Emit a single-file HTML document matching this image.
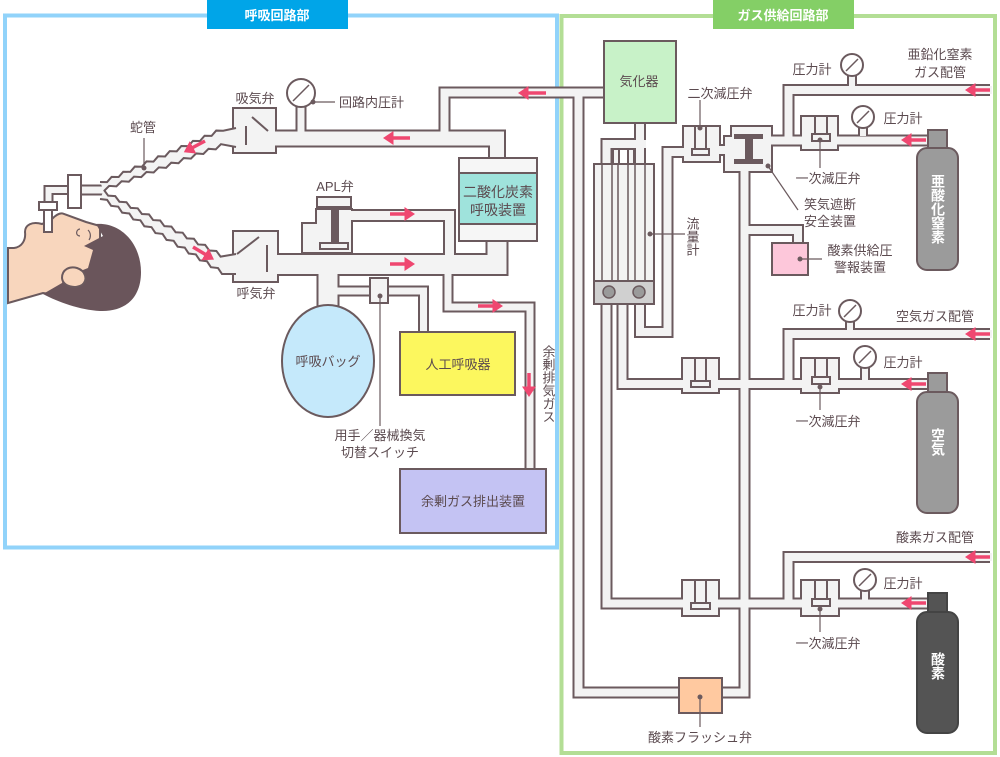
<!DOCTYPE html>
<html><head><meta charset="utf-8">
<style>
html,body{margin:0;padding:0;background:#fff;}
svg{display:block;}
text{font-family:"Liberation Sans","Noto Sans CJK JP",sans-serif;fill:#5b4a4f;font-size:13px;}
.c{text-anchor:middle;}
.w{fill:#fff;font-weight:bold;}
.v{writing-mode:tb;glyph-orientation-vertical:0;}
.dk{fill:none;stroke:#6b5a5e;stroke-linejoin:miter;}
.lt{fill:none;stroke:#f3f3f3;stroke-linejoin:miter;}
.bx{stroke:#6b5a5e;stroke-width:2;}
.ld{stroke:#6b5a5e;stroke-width:1.2;fill:none;}
</style></head>
<body>
<svg width="1000" height="757" viewBox="0 0 1000 757" xmlns="http://www.w3.org/2000/svg">
<defs>
<marker id="ah" markerWidth="4" markerHeight="4" refX="1" refY="2" orient="auto" markerUnits="strokeWidth">
<path d="M0,0 L3,2 L0,4 Z" fill="#ef4770"/></marker>
</defs>
<!-- frames -->
<rect x="5" y="15.5" width="552" height="532" fill="none" stroke="#91d3fa" stroke-width="4"/>
<rect x="561.5" y="16" width="433.5" height="737" fill="none" stroke="#b3de95" stroke-width="4"/>
<rect x="207" y="0" width="141" height="29" fill="#00a5e8"/>
<text x="277" y="20" class="c w">呼吸回路部</text>
<rect x="713" y="0" width="141" height="29" fill="#84cf66"/>
<text x="783" y="20" class="c w">ガス供給回路部</text>

<!-- DARK pipe strokes -->
<g class="dk">
<path d="M604,92.5 H444.5 V140" stroke-width="12"/>
<path d="M262,138.5 H497 V162" stroke-width="18"/>
<path d="M497,238 V264.5 H262" stroke-width="23"/>
<path d="M340,215.5 H449.5 V258" stroke-width="13"/>
<path d="M328,270 V312" stroke-width="23"/>
<path d="M330,291 H423.5 V334" stroke-width="11"/>
<path d="M448,270 V307 H530 V471" stroke-width="11"/>
<path d="M301,106 V132" stroke-width="11"/>
<path d="M81,190 H104" stroke-width="11"/>
<path d="M68,190 H48.5 V205" stroke-width="10"/>
<!-- gas side -->
<path d="M578.5,92 V692.5 H681" stroke-width="12"/>
<path d="M720,692.5 H744.5 V166" stroke-width="12"/>
<path d="M640,121 V166" stroke-width="12"/>
<path d="M606.5,166 V144 H646" stroke-width="12"/>
<path d="M640,302 V332 H667.5 V152 H686" stroke-width="12"/>
<path d="M716,150 H728" stroke-width="12"/>
<path d="M768,140.5 H929" stroke-width="12"/>
<path d="M788.5,141 V90 H990" stroke-width="12"/>
<path d="M744.5,230 H798 V245" stroke-width="12"/>
<path d="M606.5,302 V603.5 H929" stroke-width="12"/>
<path d="M622.5,302 V384 H929" stroke-width="12"/>
<path d="M788.5,385 V334 H990" stroke-width="12"/>
<path d="M788.5,604 V557 H990" stroke-width="12"/>
<path d="M852,75 V86" stroke-width="10"/>
<path d="M863,127 V136" stroke-width="10"/>
<path d="M850,321 V330" stroke-width="10"/>
<path d="M865,366 V380" stroke-width="10"/>
<path d="M865,590 V600" stroke-width="10"/>
</g>

<!-- valve bodies -->
<g fill="#f3f3f3" class="bx">
<rect x="233" y="108" width="43" height="45"/>
<rect x="233" y="231" width="45" height="51"/>
<path d="M302,253 V223 H316 V209 H352 V253 Z"/>
<rect x="683" y="126" width="37" height="36"/>
<path d="M724,172 V136 H731 V126 H772 V172 Z"/>
<rect x="801" y="116" width="37" height="34"/>
<rect x="682" y="358" width="37" height="35"/>
<rect x="801" y="358" width="38" height="35"/>
<rect x="682" y="580" width="37" height="36"/>
<rect x="801" y="580" width="38" height="36"/>
</g>

<!-- LIGHT pipe strokes -->
<g class="lt">
<path d="M604,92.5 H444.5 V140" stroke-width="8"/>
<path d="M262,138.5 H497 V162" stroke-width="14"/>
<path d="M497,238 V264.5 H262" stroke-width="19"/>
<path d="M330,215.5 H449.5 V258" stroke-width="9"/>
<path d="M328,262 V312" stroke-width="19"/>
<path d="M330,291 H423.5 V334" stroke-width="7"/>
<path d="M448,270 V307 H530 V471" stroke-width="7"/>
<path d="M301,106 V132" stroke-width="7"/>
<path d="M81,190 H104" stroke-width="7"/>
<path d="M68,190 H48.5 V205" stroke-width="6"/>
<path d="M578.5,92 V692.5 H681" stroke-width="8"/>
<path d="M720,692.5 H744.5 V166" stroke-width="8"/>
<path d="M640,121 V166" stroke-width="8"/>
<path d="M606.5,166 V144 H646" stroke-width="8"/>
<path d="M640,302 V332 H667.5 V152 H686" stroke-width="8"/>
<path d="M716,150 H728" stroke-width="8"/>
<path d="M768,140.5 H929" stroke-width="8"/>
<path d="M788.5,141 V90 H992" stroke-width="8"/>
<path d="M744.5,230 H798 V245" stroke-width="8"/>
<path d="M606.5,302 V603.5 H929" stroke-width="8"/>
<path d="M622.5,302 V384 H929" stroke-width="8"/>
<path d="M788.5,385 V334 H992" stroke-width="8"/>
<path d="M788.5,604 V557 H992" stroke-width="8"/>
<path d="M852,75 V86" stroke-width="6"/>
<path d="M863,127 V136" stroke-width="6"/>
<path d="M850,321 V330" stroke-width="6"/>
<path d="M865,366 V380" stroke-width="6"/>
<path d="M865,590 V600" stroke-width="6"/>
</g>

<!-- valve details -->
<g stroke="#6b5a5e" stroke-width="2" fill="none">
<line x1="252" y1="117" x2="268" y2="131"/>
<line x1="246" y1="126" x2="246" y2="145"/>
<line x1="237" y1="254" x2="259" y2="237"/>
<line x1="267" y1="245" x2="267" y2="272"/>
<!-- regulators inner -->
<path d="M695,126 V149 M706,126 V149"/><rect x="692" y="149" width="17" height="6" fill="#f3f3f3"/>
<path d="M815,116 V134 M827,116 V134"/><rect x="812" y="134" width="18" height="7" fill="#f3f3f3"/>
<path d="M695,358 V381 M706,358 V381"/><rect x="691" y="381" width="19" height="6" fill="#f3f3f3"/>
<path d="M815,358 V377 M827,358 V377"/><rect x="812" y="377" width="18" height="7" fill="#f3f3f3"/>
<path d="M695,580 V603 M706,580 V603"/><rect x="691" y="603" width="19" height="6" fill="#f3f3f3"/>
<path d="M815,580 V599 M827,580 V599"/><rect x="812" y="599" width="18" height="7" fill="#f3f3f3"/>
</g>
<!-- APL -->
<rect x="317" y="197" width="34" height="10" fill="#f3f3f3" class="bx"/>
<rect x="331" y="207" width="8" height="37" fill="#6b5a5e"/>
<rect x="320" y="243" width="28" height="6" fill="#f3f3f3" class="bx"/>
<!-- cutoff I-beam -->
<rect x="734" y="134" width="29" height="5" fill="#6b5a5e"/>
<rect x="745" y="139" width="8" height="20" fill="#6b5a5e"/>
<rect x="734" y="159" width="29" height="5" fill="#6b5a5e"/>
<!-- switch -->
<rect x="370" y="278" width="18" height="25" fill="#f3f3f3" class="bx"/>

<!-- gauges -->
<g fill="#fff" stroke="#6b5a5e" stroke-width="2">
<circle cx="301" cy="93" r="14"/>
<circle cx="852" cy="65" r="11"/>
<circle cx="863" cy="117" r="11"/>
<circle cx="850" cy="311" r="11"/>
<circle cx="865" cy="357" r="11"/>
<circle cx="865" cy="580" r="11"/>
</g>
<g stroke="#6b5a5e" stroke-width="1.5">
<line x1="293" y1="101" x2="309" y2="85"/>
<line x1="846" y1="71" x2="858" y2="59"/>
<line x1="857" y1="123" x2="869" y2="111"/>
<line x1="844" y1="317" x2="856" y2="305"/>
<line x1="859" y1="363" x2="871" y2="351"/>
<line x1="859" y1="586" x2="871" y2="574"/>
</g>

<!-- hoses -->
<g id="hoses"></g>

<!-- patient -->
<path d="M8,248 L14,248 C22,247 26,240 25,232 C25,225 32,221 42,224 L52,219 C56,215 60,212 64,214 L86,222 L100,226 L100,300 L43,293 L8,303 Z" fill="#f8d6bd" stroke="#6b5a5e" stroke-width="2"/>
<path d="M96,224 C122,222 141,245 141,272 C141,300 123,312 100,311 C80,310 58,302 43,294 L62,283 C64,276 70,272 78,272 L88,268 L93,250 L84,246 L103,236 Z" fill="#6a555b"/>
<path d="M62,278 C62,269 70,266 77,268 C86,271 88,280 82,285 C76,289 63,287 62,278 Z" fill="#f8d6bd" stroke="#6b5a5e" stroke-width="2"/>
<path d="M80,229 C76,229 75,236 80,236" class="ld" stroke-width="1.8"/>
<path d="M88,230 C91,233 91,237 89,240" class="ld" stroke-width="1.8"/>
<rect x="44" y="208" width="8" height="24" fill="#fff" class="bx"/>
<rect x="39" y="202" width="18" height="8" fill="#fff" class="bx"/>
<rect x="68" y="175" width="13" height="33" fill="#fff" class="bx"/>

<!-- colored boxes -->
<g class="bx">
<rect x="459" y="158" width="78" height="83" fill="#f6f6f6"/>
<rect x="459" y="173" width="78" height="51" fill="#9fe3dc"/>
<ellipse cx="328" cy="361" rx="46" ry="56" fill="#c5e9fb"/>
<rect x="400" y="332" width="115" height="63" fill="#fcf75e"/>
<rect x="400" y="469" width="146" height="64" fill="#c4c3f3"/>
<rect x="604" y="41" width="72" height="82" fill="#c8f2c8"/>
<rect x="594" y="164" width="60" height="140" fill="#f3f3f3"/>
<rect x="594" y="281" width="60" height="23" fill="#d0d0d0"/>
<rect x="772" y="243" width="36" height="32" fill="#fdc7da"/>
<rect x="679" y="678" width="43" height="35" fill="#ffc9a0"/>
<rect x="928" y="130" width="19" height="20" fill="#9b9b9b"/>
<rect x="917" y="148" width="41" height="122" rx="10" fill="#9b9b9b"/>
<rect x="928" y="373" width="19" height="20" fill="#9b9b9b"/>
<rect x="917" y="392" width="41" height="121" rx="10" fill="#9b9b9b"/>
<rect x="928" y="593" width="19" height="20" fill="#545454" stroke="#444"/>
<rect x="917" y="612" width="41" height="121" rx="10" fill="#545454" stroke="#444"/>
</g>
<!-- manifold stubs -->
<rect x="613" y="149" width="6" height="15" fill="#f3f3f3" class="bx"/>
<rect x="628" y="149" width="6" height="15" fill="#f3f3f3" class="bx"/>
<g stroke="#6b5a5e" stroke-width="1.5">
<path d="M602,164 V281 M612,164 V281 M618,164 V281 M628,164 V281 M635,164 V281 M645,164 V281"/>
</g>
<circle cx="609" cy="292" r="6" fill="#9a9a9a" stroke="#6b5a5e" stroke-width="1.5"/>
<circle cx="639" cy="292" r="6" fill="#9a9a9a" stroke="#6b5a5e" stroke-width="1.5"/>

<!-- leaders -->
<g class="ld">
<line x1="144" y1="138" x2="144" y2="168"/>
<line x1="313" y1="102" x2="335" y2="102"/>
<line x1="380" y1="296" x2="380" y2="426"/>
<line x1="700" y1="100" x2="700" y2="128"/>
<line x1="650" y1="234" x2="685" y2="234"/>
<line x1="768" y1="166" x2="798" y2="210"/>
<line x1="800" y1="259" x2="822" y2="259"/>
<line x1="820" y1="140" x2="820" y2="168"/>
<line x1="820" y1="387" x2="820" y2="410"/>
<line x1="820" y1="609" x2="820" y2="632"/>
<line x1="700" y1="697" x2="700" y2="727"/>
</g>
<g fill="#6b5a5e">
<circle cx="144" cy="168" r="2.5"/><circle cx="313" cy="102" r="2.5"/><circle cx="380" cy="296" r="2.5"/>
<circle cx="700" cy="128" r="2.5"/><circle cx="650" cy="234" r="2.5"/><circle cx="768" cy="166" r="2.5"/>
<circle cx="800" cy="259" r="2.5"/><circle cx="820" cy="140" r="2.5"/><circle cx="820" cy="387" r="2.5"/>
<circle cx="820" cy="609" r="2.5"/><circle cx="700" cy="697" r="2.5"/>
</g>

<!-- arrows -->
<g stroke="#ef4770" stroke-width="3.5" marker-end="url(#ah)">
<line x1="546" y1="93" x2="525" y2="93"/>
<line x1="410" y1="138" x2="390" y2="138"/>
<line x1="205" y1="141" x2="190" y2="149"/>
<line x1="193" y1="247" x2="208" y2="256"/>
<line x1="390" y1="214" x2="408" y2="214"/>
<line x1="390" y1="264" x2="408" y2="264"/>
<line x1="478" y1="306" x2="496" y2="306"/>
<line x1="529" y1="373" x2="529" y2="390"/>
<line x1="990" y1="90" x2="972" y2="90"/>
<line x1="926" y1="140" x2="908" y2="140"/>
<line x1="990" y1="334" x2="972" y2="334"/>
<line x1="926" y1="384" x2="908" y2="384"/>
<line x1="990" y1="557" x2="972" y2="557"/>
<line x1="926" y1="603" x2="908" y2="603"/>
</g>

<!-- labels -->
<text x="143" y="132" class="c">蛇管</text>
<text x="255" y="103" class="c">吸気弁</text>
<text x="339" y="107">回路内圧計</text>
<text x="335" y="191" class="c">APL弁</text>
<text x="256" y="298" class="c">呼気弁</text>
<text x="498" y="197" class="c" style="font-size:14px">二酸化炭素</text>
<text x="498" y="215" class="c" style="font-size:14px">呼吸装置</text>
<text x="328" y="366" class="c">呼吸バッグ</text>
<text x="458" y="369" class="c">人工呼吸器</text>
<text x="380" y="440" class="c">用手／器械換気</text>
<text x="380" y="457" class="c">切替スイッチ</text>
<text x="473" y="506" class="c">余剰ガス排出装置</text>
<text x="548" y="345" class="v">余剰排気ガス</text>
<text x="639" y="86" class="c">気化器</text>
<text x="720" y="98" class="c">二次減圧弁</text>
<text x="692" y="217" class="v">流量計</text>
<text x="830" y="209" class="c">笑気遮断</text>
<text x="830" y="226" class="c">安全装置</text>
<text x="860" y="255" class="c">酸素供給圧</text>
<text x="860" y="272" class="c">警報装置</text>
<text x="812" y="74" class="c">圧力計</text>
<text x="903" y="123" class="c">圧力計</text>
<text x="940" y="59" class="c">亜鉛化窒素</text>
<text x="940" y="77" class="c">ガス配管</text>
<text x="828" y="183" class="c">一次減圧弁</text>
<text x="812" y="315" class="c">圧力計</text>
<text x="935" y="321" class="c">空気ガス配管</text>
<text x="903" y="367" class="c">圧力計</text>
<text x="828" y="426" class="c">一次減圧弁</text>
<text x="935" y="542" class="c">酸素ガス配管</text>
<text x="903" y="588" class="c">圧力計</text>
<text x="828" y="648" class="c">一次減圧弁</text>
<text x="700" y="742" class="c">酸素フラッシュ弁</text>
<text x="938" y="174" class="v w" style="font-size:14px">亜酸化窒素</text>
<text x="938" y="428" class="v w" style="font-size:14px">空気</text>
<text x="938" y="652" class="v w" style="font-size:14px">酸素</text>
</svg>
<script>
(function(){
var NS="http://www.w3.org/2000/svg",g=document.getElementById("hoses");
function zz(a,b,out,amp){var dx=b[0]-a[0],dy=b[1]-a[1],L=Math.hypot(dx,dy),n=Math.round(L/6.5),
nx=-dy/L*out,ny=dx/L*out,p=[];for(var i=0;i<=n;i++){var t=i/n,o=(i%2?amp:0);p.push([a[0]+dx*t+nx*o,a[1]+dy*t+ny*o]);}return p;}
function hose(t0,t1,b0,b1,tail){
var top=zz(t0,t1,1,3),bot=zz(b0,b1,-1,3);
var poly=top.concat([[tail,t1[1]],[tail,b1[1]]]).concat(bot.slice().reverse());
var pg=document.createElementNS(NS,"polygon");pg.setAttribute("points",poly.map(function(p){return p.join(",")}).join(" "));
pg.setAttribute("fill","#f3f3f3");g.appendChild(pg);
[top,bot].forEach(function(e,k){var pl=document.createElementNS(NS,"polyline");
var pts=e.concat([[tail,k?b1[1]:t1[1]]]);
pl.setAttribute("points",pts.map(function(p){return p.join(",")}).join(" "));
pl.setAttribute("fill","none");pl.setAttribute("stroke","#6b5a5e");pl.setAttribute("stroke-width","2");g.appendChild(pl);});
}
hose([100,182],[222,128],[104,191],[222,147],236);
hose([104,190],[222,254],[100,199],[222,274],236);
})();
</script>
</body></html>
